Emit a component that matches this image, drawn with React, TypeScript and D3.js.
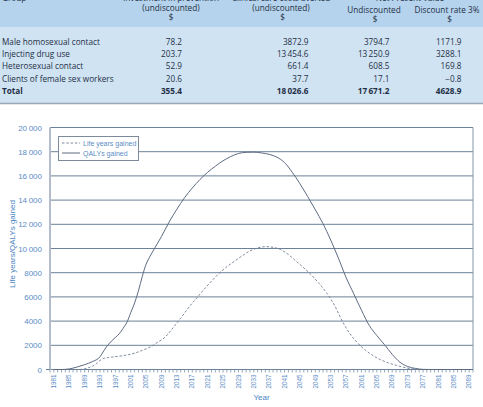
import React from 'react';
import * as d3 from 'd3';

// Table contents
const tableGroups = [
  'Male homosexual contact',
  'Injecting drug use',
  'Heterosexual contact',
  'Clients of female sex workers',
  'Total',
];
const investment = [78.2, 203.7, 52.9, 20.6, 355.4];
const careAverted = [3872.9, 13454.6, 661.4, 37.7, 18026.6];
const npvUndiscounted = [3794.7, 13250.9, 608.5, 17.1, 17671.2];
const npvDiscounted = [1171.9, 3288.1, 169.8, -0.8, 4628.9];

// Chart series
const qalyYears = [1981, 1983, 1985, 1987, 1989, 1991, 1993, 1994, 1995, 1996, 1997, 1998, 1999, 2000, 2001, 2002, 2003, 2004, 2005, 2006, 2007, 2008, 2009, 2011, 2013, 2015, 2017, 2019, 2021, 2023, 2025, 2027, 2029, 2031, 2033, 2035, 2037, 2039, 2041, 2043, 2045, 2047, 2049, 2051, 2053, 2055, 2057, 2059, 2061, 2063, 2065, 2067, 2069, 2071, 2073, 2075, 2077, 2079, 2090];
const qalyValues = [0, 0, 50, 200, 400, 650, 1050, 1550, 2000, 2350, 2650, 2950, 3400, 3900, 4700, 5500, 6500, 7700, 8700, 9350, 9900, 10450, 11000, 12200, 13250, 14200, 15000, 15700, 16300, 16800, 17250, 17600, 17850, 17950, 17960, 17900, 17780, 17550, 17100, 16300, 15350, 14300, 13200, 12050, 10700, 9200, 7600, 6250, 4900, 3650, 2800, 2050, 1250, 600, 250, 90, 10, 0, 0];

const lifeYears = [1981, 1987, 1988, 1989, 1990, 1991, 1992, 1993, 1994, 1995, 1996, 1998, 2000, 2002, 2004, 2006, 2008, 2010, 2012, 2014, 2016, 2018, 2020, 2022, 2024, 2026, 2028, 2030, 2032, 2034, 2036, 2038, 2040, 2042, 2044, 2046, 2048, 2050, 2052, 2054, 2056, 2058, 2060, 2062, 2064, 2066, 2068, 2070, 2072, 2074, 2076, 2090];
const lifeValues = [0, 0, 10, 60, 150, 260, 460, 750, 920, 980, 1020, 1100, 1200, 1350, 1580, 1850, 2250, 2700, 3450, 4250, 5100, 5850, 6600, 7300, 7950, 8500, 8950, 9400, 9800, 10050, 10150, 10100, 9900, 9500, 8950, 8400, 7800, 7100, 6300, 5300, 4000, 2950, 2200, 1600, 1150, 800, 550, 350, 180, 60, 0, 0];

const yTicks = [0, 2000, 4000, 6000, 8000, 10000, 12000, 14000, 16000, 18000, 20000];
const xLabelYears = d3.range(1981, 2090, 4);
const legendLabels = ['Life years gained', 'QALYs gained'];

const W = 483;
const H = 407;

const THIN = '\u2009';
function fmtNum(v: number, decimals: number): string {
  const sign = v < 0 ? '\u2212' : '';
  const a = Math.abs(v);
  const s = a.toFixed(decimals);
  const [intPart, dec] = s.split('.');
  let ip = intPart;
  if (a >= 10000) {
    ip = intPart.replace(/\B(?=(\d{3})+(?!\d))/g, THIN);
  }
  return sign + ip + (dec !== undefined ? '.' + dec : '');
}

const tableFont = "'Open Sans', 'Noto Sans', sans-serif";
const chartFont = "'Liberation Sans', Arial, sans-serif";
const textDark = '#1f2f45';
const blueText = '#5a8dc6';

export default function App() {
  const x = d3.scaleLinear().domain([1980, 2090]).range([50, 473]);
  const y = d3.scaleLinear().domain([0, 20000]).range([369.5, 127.5]);

  const qalyData = qalyYears.map((yr, i) => [yr, qalyValues[i]] as [number, number]);
  const lifeData = lifeYears.map((yr, i) => [yr, lifeValues[i]] as [number, number]);

  const line = d3
    .line<[number, number]>()
    .x((d) => x(d[0]))
    .y((d) => y(d[1]))
    .curve(d3.curveMonotoneX);

  const rowY = [44.5, 56.8, 69.3, 81.7, 94.2];
  const columns = [
    { values: investment, right: 182 },
    { values: careAverted, right: 308.5 },
    { values: npvUndiscounted, right: 389.5 },
    { values: npvDiscounted, right: 461.5 },
  ];

  const minorYears = d3.range(1980, 2091);

  return (
    <svg
      width={W}
      height={H}
      style={{ position: 'absolute', left: 0, top: 0, background: '#ffffff' }}
    >
      {/* table */}
      <rect x={0} y={0} width={W} height={103} fill="#cfe3f3" />
      <rect x={0} y={0} width={W} height={27} fill="#b5d3ec" />
      <line x1={0} x2={W} y1={103.5} y2={103.5} stroke="#9aa7b4" strokeWidth={1.5} />
      <g fontFamily={tableFont} fontSize={8.2} fill={textDark}>
        <text x={2} y={1}>Group</text>
        <text x={171} y={1} textAnchor="middle">Investment in prevention</text>
        <text x={171} y={10.5} textAnchor="middle">(undiscounted)</text>
        <text x={171} y={20} textAnchor="middle">$</text>
        <text x={281} y={1} textAnchor="middle">Clinical care costs averted</text>
        <text x={281} y={10.5} textAnchor="middle">(undiscounted)</text>
        <text x={282.5} y={20} textAnchor="middle">$</text>
        <text x={410} y={1} textAnchor="middle">Net Present Value</text>
        <text x={374} y={12.5} textAnchor="middle">Undiscounted</text>
        <text x={375} y={22} textAnchor="middle">$</text>
        <text x={447} y={12.5} textAnchor="middle">Discount rate 3%</text>
        <text x={449.5} y={22} textAnchor="middle">$</text>
        {tableGroups.map((g, i) => (
          <g key={g} fontWeight={i === tableGroups.length - 1 ? 700 : 400}>
            <text x={2} y={rowY[i]}>{g}</text>
            {columns.map((c, j) => (
              <text key={j} x={c.right} y={rowY[i]} textAnchor="end">
                {fmtNum(c.values[i], 1)}
              </text>
            ))}
          </g>
        ))}
      </g>

      {/* chart frame and gridlines */}
      <g>
        {yTicks.map((t) => (
          <line
            key={t}
            x1={50}
            x2={473}
            y1={y(t)}
            y2={y(t)}
            stroke="#6a8198"
            strokeWidth={1}
          />
        ))}
        <line x1={473} x2={473} y1={y(20000)} y2={y(0)} stroke="#8597aa" strokeWidth={1} />
        {minorYears.map((yr) => (
          <line
            key={yr}
            x1={x(yr)}
            x2={x(yr)}
            y1={y(0)}
            y2={y(0) + 3}
            stroke="#7d93aa"
            strokeWidth={0.8}
          />
        ))}
        <line x1={50} x2={50} y1={y(20000)} y2={y(0) + 0.5} stroke="#b3bccb" strokeWidth={2} />
        <line x1={46} x2={50} y1={y(0)} y2={y(0)} stroke="#6a8198" strokeWidth={1} />
      </g>

      {/* series */}
      <path d={line(lifeData) || ''} fill="none" stroke="#6f7d93" strokeWidth={0.9} strokeDasharray="2.5,1.8" />
      <path d={line(qalyData) || ''} fill="none" stroke="#5d6b82" strokeWidth={1} />

      {/* y tick labels */}
      <g fontFamily={chartFont} fontSize={8} fill={blueText}>
        {yTicks.map((t) => (
          <text key={t} x={42} y={y(t) + 3} textAnchor="end">
            {t >= 10000 ? fmtNum(t, 0) : String(t)}
          </text>
        ))}
      </g>

      {/* x tick labels */}
      <g fontFamily={chartFont} fontSize={6.3} fill={blueText}>
        {xLabelYears.map((yr) => (
          <text
            key={yr}
            transform={`translate(${x(yr) + 2.2},${y(0) + 5}) rotate(-90)`}
            textAnchor="end"
          >
            {yr}
          </text>
        ))}
      </g>

      {/* axis titles */}
      <text
        x={261.5}
        y={400}
        textAnchor="middle"
        fontFamily={chartFont}
        fontSize={8}
        fill="#4a84c3"
      >
        Year
      </text>
      <text
        transform={`translate(14.5,244) rotate(-90)`}
        textAnchor="middle"
        fontFamily={chartFont}
        fontSize={8}
        fill="#4a84c3"
      >
        Life years/QALYs gained
      </text>

      {/* legend */}
      <rect x={58.5} y={136.5} width={80} height={24} fill="#ffffff" stroke="#7d8a99" strokeWidth={1} />
      <line x1={62} x2={80} y1={143} y2={143} stroke="#6f7d93" strokeWidth={0.9} strokeDasharray="2.5,1.8" />
      <line x1={62} x2={80} y1={153} y2={153} stroke="#5d6b82" strokeWidth={1} />
      <g fontFamily={chartFont} fontSize={7} fill={blueText}>
        <text x={83} y={145.5}>{legendLabels[0]}</text>
        <text x={83} y={155.5}>{legendLabels[1]}</text>
      </g>
    </svg>
  );
}
